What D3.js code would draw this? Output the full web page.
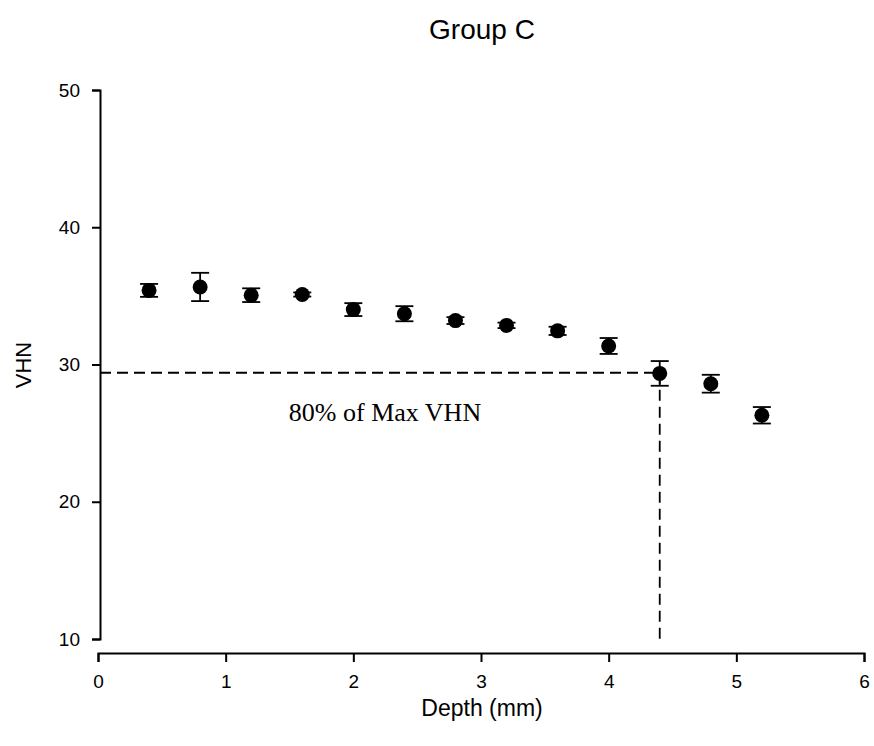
<!DOCTYPE html>
<html>
<head>
<meta charset="utf-8">
<script src="https://cdn.jsdelivr.net/npm/d3@7"></script>
<style>
  html, body { margin: 0; padding: 0; background: #fff; }
  svg { display: block; }
</style>
</head>
<body>
<svg id="chart" width="874" height="746"></svg>
<script>
// Microhardness profile: mean VHN and standard deviation at each depth
const depths = [0.4, 0.8, 1.2, 1.6, 2.0, 2.4, 2.8, 3.2, 3.6, 4.0, 4.4, 4.8, 5.2];
const vhn    = [35.4, 35.65, 35.05, 35.1, 34.0, 33.7, 33.2, 32.85, 32.45, 31.35, 29.35, 28.6, 26.3];
const sd     = [0.47, 1.03, 0.5, 0.15, 0.47, 0.55, 0.25, 0.2, 0.3, 0.58, 0.9, 0.65, 0.6];

const xTicks = [0, 1, 2, 3, 4, 5, 6];
const yTicks = [10, 20, 30, 40, 50];

// 80% of maximum VHN threshold and the depth where it is reached
const thresholdVHN = 29.4;
const thresholdDepth = 4.4;

const svg = d3.select("#chart");

const x = d3.scaleLinear().domain([0, 6]).range([98, 864]);
const y = d3.scaleLinear().domain([10, 50]).range([639, 90]);
const yAxisX = 100;
const xAxisY = 653;

const sans = "Arial, 'Liberation Sans', sans-serif";

// Axes (offset from each other, SigmaPlot style)
const xAxis = svg.append("g")
  .attr("transform", `translate(0,${xAxisY})`)
  .call(d3.axisBottom(x).tickValues(xTicks).tickFormat(d3.format("d")).tickSizeOuter(0).tickSize(9).tickPadding(13));
const yAxis = svg.append("g")
  .attr("transform", `translate(${yAxisX},0)`)
  .call(d3.axisLeft(y).tickValues(yTicks).tickFormat(d3.format("d")).tickSizeOuter(0).tickSize(8).tickPadding(12));

[xAxis, yAxis].forEach(g => {
  g.select(".domain").attr("stroke", "#000").attr("stroke-width", 2);
  g.selectAll(".tick line").attr("stroke", "#000").attr("stroke-width", 2);
  g.selectAll(".tick text")
    .attr("fill", "#000")
    .style("font-family", sans)
    .style("font-size", "19px");
});

// Threshold guide lines
const dash = "11,6";
svg.append("line")
  .attr("x1", yAxisX).attr("x2", x(thresholdDepth))
  .attr("y1", y(thresholdVHN)).attr("y2", y(thresholdVHN))
  .attr("stroke", "#000").attr("stroke-width", 1.8).attr("stroke-dasharray", dash);
svg.append("line")
  .attr("x1", x(thresholdDepth)).attr("x2", x(thresholdDepth))
  .attr("y1", y(thresholdVHN)).attr("y2", y(10))
  .attr("stroke", "#000").attr("stroke-width", 1.8).attr("stroke-dasharray", dash);

// Error bars
const data = depths.map((d, i) => ({ d, v: vhn[i], s: sd[i] }));
const capHalf = 9;
const eb = svg.append("g").attr("stroke", "#000").attr("stroke-width", 1.8);
data.forEach(p => {
  const cx = x(p.d), top = y(p.v + p.s), bot = y(p.v - p.s);
  eb.append("line").attr("x1", cx).attr("x2", cx).attr("y1", top).attr("y2", bot);
  eb.append("line").attr("x1", cx - capHalf).attr("x2", cx + capHalf).attr("y1", top).attr("y2", top);
  eb.append("line").attr("x1", cx - capHalf).attr("x2", cx + capHalf).attr("y1", bot).attr("y2", bot);
});

// Mean markers
svg.append("g").selectAll("circle")
  .data(data)
  .join("circle")
  .attr("cx", p => x(p.d))
  .attr("cy", p => y(p.v))
  .attr("r", 7.5)
  .attr("fill", "#000");

// Titles and labels
svg.append("text")
  .attr("x", 482).attr("y", 39)
  .attr("text-anchor", "middle")
  .style("font-family", sans).style("font-size", "28px")
  .text("Group C");

svg.append("text")
  .attr("x", 482).attr("y", 716)
  .attr("text-anchor", "middle")
  .style("font-family", sans).style("font-size", "23px")
  .text("Depth (mm)");

svg.append("text")
  .attr("transform", "translate(31,365) rotate(-90)")
  .attr("text-anchor", "middle")
  .style("font-family", sans).style("font-size", "22px")
  .text("VHN");

svg.append("text")
  .attr("x", 385).attr("y", 421)
  .attr("text-anchor", "middle")
  .style("font-family", "'Liberation Serif', 'Times New Roman', serif").style("font-size", "26px")
  .text("80% of Max VHN");
</script>
</body>
</html>
